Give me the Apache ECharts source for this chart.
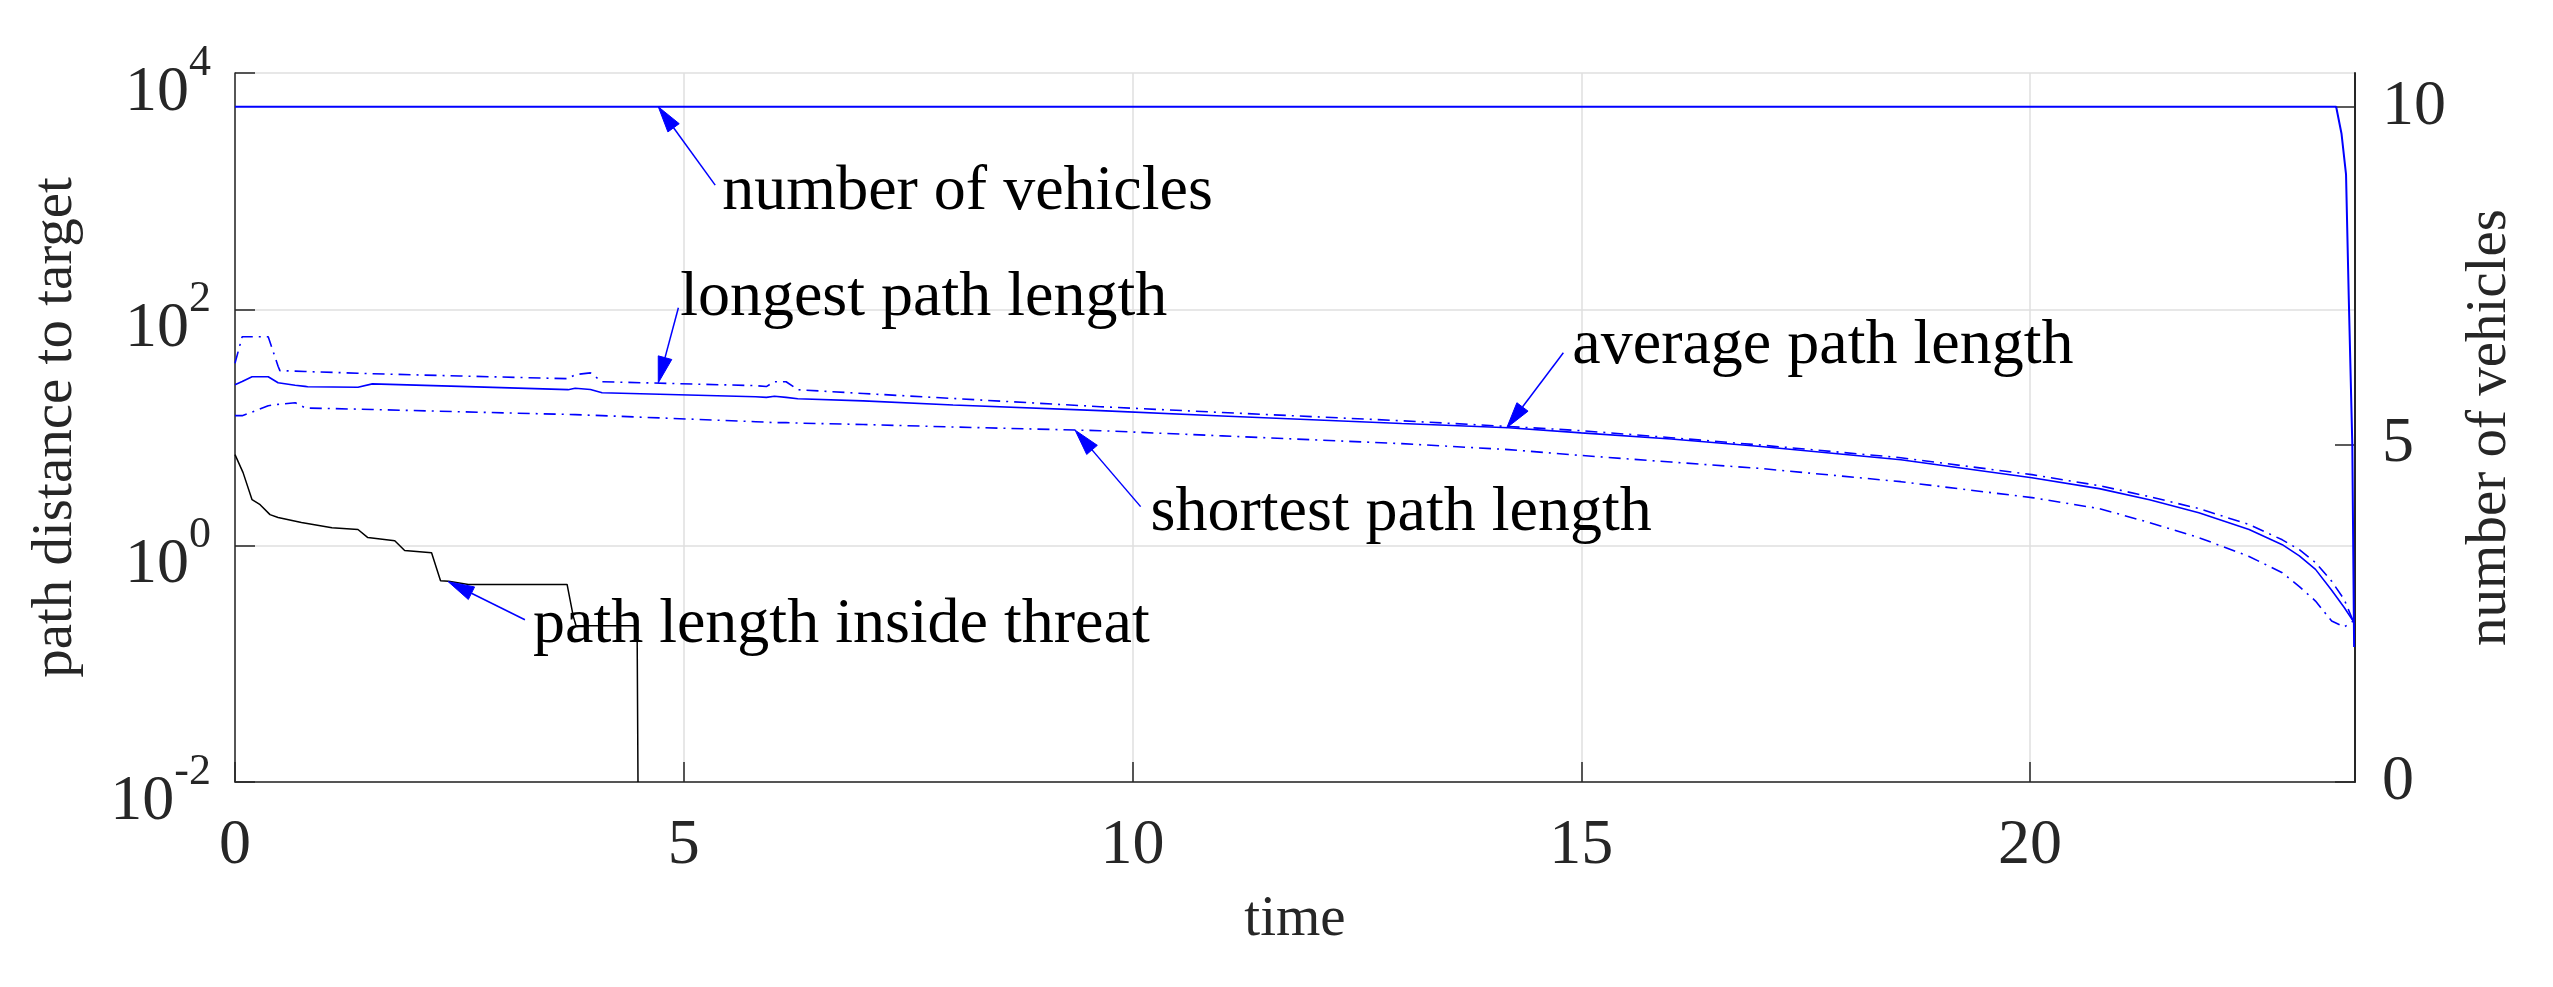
<!DOCTYPE html>
<html>
<head>
<meta charset="utf-8">
<script src="https://cdn.jsdelivr.net/npm/echarts@6/dist/echarts.min.js"></script>
<style>html,body{margin:0;padding:0;background:#fff}#c{width:2553px;height:987px}</style>
</head>
<body>
<div id="c"></div>
<script>
// ---- data ----
const tPath = [0, 0.08, 0.19, 0.37, 0.39, 0.48, 0.5, 0.67, 0.78, 0.81, 1.37, 1.53, 2.5, 3.71, 3.79, 3.81, 3.96, 4.09, 5.8, 5.92, 6.01, 6.14, 6.27, 7, 8, 9.64, 11, 13, 14.19, 15, 16, 17, 18.56, 20.02, 20.77, 21.33, 21.88, 22.44, 22.81, 23.0, 23.18, 23.36, 23.5, 23.6];
const longest = [35, 58.6, 58.6, 58.6, 58, 33, 30.3, 30, 29.8, 29.7, 28.8, 28.5, 27.3, 25.9, 28, 29, 29, 24.4, 22.6, 22.2, 24.4, 24.4, 20.9, 19.4, 17.6, 15.0, 13.4, 11.4, 10.2, 9.4, 8.2, 7.1, 5.55, 3.99, 3.22, 2.60, 2.06, 1.51, 1.12, 0.925, 0.72, 0.50, 0.35, 0.23];
const average = [23.0, 24.5, 26.9, 26.9, 26.5, 23.9, 23.7, 22.8, 22.3, 22.1, 21.9, 23.4, 22.3, 20.9, 21.5, 21.4, 21, 19.7, 18.2, 18.0, 18.4, 18.0, 17.5, 16.8, 15.5, 13.9, 12.5, 10.8, 9.96, 9.0, 8.0, 6.9, 5.33, 3.76, 3.04, 2.45, 1.90, 1.37, 1.02, 0.82, 0.63, 0.42, 0.30, 0.23];
const shortest = [12.6, 12.6, 13.5, 15.3, 15.5, 15.7, 15.8, 16.2, 14.7, 14.6, 14.3, 14.2, 13.6, 12.9, 12.85, 12.8, 12.7, 12.6, 11.2, 11.1, 11.0, 11.0, 10.9, 10.6, 10.1, 9.4, 8.5, 7.3, 6.5, 5.8, 5.1, 4.5, 3.48, 2.55, 2.06, 1.57, 1.17, 0.81, 0.59, 0.45, 0.34, 0.23, 0.205, 0.23];
const tThreat = [0, 0.09, 0.19, 0.28, 0.39, 0.48, 0.74, 1.08, 1.37, 1.48, 1.78, 1.89, 2.19, 2.29, 2.38, 2.6, 3.70, 3.77, 3.8, 4.48, 4.49];
const threat = [5.9, 4.15, 2.45, 2.22, 1.83, 1.73, 1.57, 1.42, 1.37, 1.17, 1.10, 0.91, 0.87, 0.505, 0.50, 0.47, 0.47, 0.25, 0.21, 0.21, 0.01];
const tVehicles = [0, 23.41, 23.47, 23.52, 23.55, 23.59, 23.61];
const vehicles = [10, 10, 9.6, 9.0, 7.2, 5, 2];
const xTicks = [0, 5, 10, 15, 20];
const leftTicks = [0.01, 1, 100, 10000];
const rightTicks = [0, 5, 10];
const annotations = [
  {text: 'number of vehicles', axis: 1, tip: [4.716, 10], tail: [5.35, 8.84], label: [5.43, 8.73]},
  {text: 'longest path length', axis: 0, tip: [4.716, 23.9], tail: [4.94, 103], label: [4.96, 125]},
  {text: 'average path length', axis: 0, tip: [14.17, 9.96], tail: [14.8, 42.9], label: [14.9, 49.2]},
  {text: 'shortest path length', axis: 0, tip: [9.36, 9.5], tail: [10.09, 2.14], label: [10.2, 1.9]},
  {text: 'path length inside threat', axis: 0, tip: [2.375, 0.496], tail: [3.23, 0.236], label: [3.32, 0.214]}
];

const FONT = '"Liberation Serif", "Times New Roman", serif';
const AX = '#262626';
const BLUE = '#0000ff';
const zip = (xs, ys) => xs.map((x, i) => [x, ys[i]]);

const chart = echarts.init(document.getElementById('c'));
const option = {
  animation: false,
  backgroundColor: '#fff',
  grid: {left: 235, right: 198, top: 73, bottom: 205, containLabel: false},
  xAxis: {
    type: 'value', min: 0, max: 23.62, interval: 5,
    name: 'time', nameLocation: 'middle', nameGap: 110,
    nameTextStyle: {fontFamily: FONT, fontSize: 57, color: AX},
    axisLine: {show: true, onZero: false, lineStyle: {color: AX, width: 1.5}},
    axisTick: {show: true, inside: true, length: 20, lineStyle: {color: AX, width: 1.5}, customValues: xTicks},
    axisLabel: {margin: 32, fontFamily: FONT, fontSize: 64, color: AX, customValues: xTicks,
      formatter: v => (xTicks.indexOf(v) >= 0 ? String(v) : '')},
    splitLine: {show: true, lineStyle: {color: '#dfdfdf', width: 1.5}}
  },
  yAxis: [
    {
      type: 'log', logBase: 100, min: 0.01, max: 10000, position: 'left',
      name: 'path distance to target', nameLocation: 'middle', nameRotate: 90, nameGap: 150,
      nameTextStyle: {fontFamily: FONT, fontSize: 57, color: AX},
      axisLine: {show: true, lineStyle: {color: AX, width: 1.5}},
      axisTick: {show: true, inside: true, length: 20, lineStyle: {color: AX, width: 1.5}},
      minorTick: {show: false},
      axisLabel: {
        margin: 24, color: AX, padding: [20, 0, 0, 0],
        formatter: v => '{b|10}{s|' + Math.round(Math.log10(v)) + '}',
        rich: {
          b: {fontFamily: FONT, fontSize: 64, lineHeight: 84, color: AX, verticalAlign: 'bottom'},
          s: {fontFamily: FONT, fontSize: 44, lineHeight: 30, color: AX, verticalAlign: 'top'}
        }
      },
      splitLine: {show: true, lineStyle: {color: '#dfdfdf', width: 1.5}}
    },
    {
      type: 'value', min: 0, max: 10.5, interval: 5, position: 'right',
      name: 'number of vehicles', nameLocation: 'middle', nameRotate: 90, nameGap: 107,
      nameTextStyle: {fontFamily: FONT, fontSize: 57, color: AX},
      axisLine: {show: true, lineStyle: {color: AX, width: 2}},
      axisTick: {show: true, inside: true, length: 20, lineStyle: {color: AX, width: 1.5}, customValues: rightTicks},
      axisLabel: {margin: 27, fontFamily: FONT, fontSize: 64, color: AX, customValues: rightTicks,
        formatter: v => (rightTicks.indexOf(v) >= 0 ? String(v) : '')},
      splitLine: {show: false}
    }
  ],
  series: [
    {name: 'path length inside threat', type: 'line', yAxisIndex: 0, data: zip(tThreat, threat),
      showSymbol: false, symbol: 'none', lineStyle: {color: '#000', width: 1.5}, z: 2},
    {name: 'shortest path length', type: 'line', yAxisIndex: 0, data: zip(tPath, shortest),
      showSymbol: false, symbol: 'none', lineStyle: {color: BLUE, width: 1.6, type: [12, 6, 2, 6]}, z: 3},
    {name: 'longest path length', type: 'line', yAxisIndex: 0, data: zip(tPath, longest),
      showSymbol: false, symbol: 'none', lineStyle: {color: BLUE, width: 1.6, type: [12, 6, 2, 6]}, z: 3},
    {name: 'average path length', type: 'line', yAxisIndex: 0, data: zip(tPath, average),
      showSymbol: false, symbol: 'none', lineStyle: {color: BLUE, width: 1.6}, z: 3},
    {name: 'number of vehicles', type: 'line', yAxisIndex: 1, data: zip(tVehicles, vehicles),
      showSymbol: false, symbol: 'none', lineStyle: {color: BLUE, width: 2}, z: 3}
  ]
};
chart.setOption(option);

function toPx(axis, p) {
  return chart.convertToPixel({xAxisIndex: 0, yAxisIndex: axis}, p);
}
const graphics = [];
annotations.forEach(a => {
  const tip = toPx(a.axis, a.tip), tail = toPx(a.axis, a.tail), lab = toPx(a.axis, a.label);
  const dx = tip[0] - tail[0], dy = tip[1] - tail[1];
  const len = Math.hypot(dx, dy), ux = dx / len, uy = dy / len;
  const L = 26, W = 7;
  const bx = tip[0] - ux * L, by = tip[1] - uy * L;
  graphics.push({type: 'line', z: 50, shape: {x1: tail[0], y1: tail[1], x2: bx, y2: by},
    style: {stroke: BLUE, lineWidth: 1.5}});
  graphics.push({type: 'polygon', z: 50, shape: {points: [tip, [bx - uy * W, by + ux * W], [bx + uy * W, by - ux * W]]},
    style: {fill: BLUE, stroke: BLUE, lineWidth: 1}});
  graphics.push({type: 'text', z: 60, x: lab[0], y: lab[1],
    style: {text: a.text, fontFamily: FONT, fontSize: 64, fill: '#000', align: 'left', verticalAlign: 'middle'}});
});
chart.setOption({graphic: graphics});
</script>
</body>
</html>
